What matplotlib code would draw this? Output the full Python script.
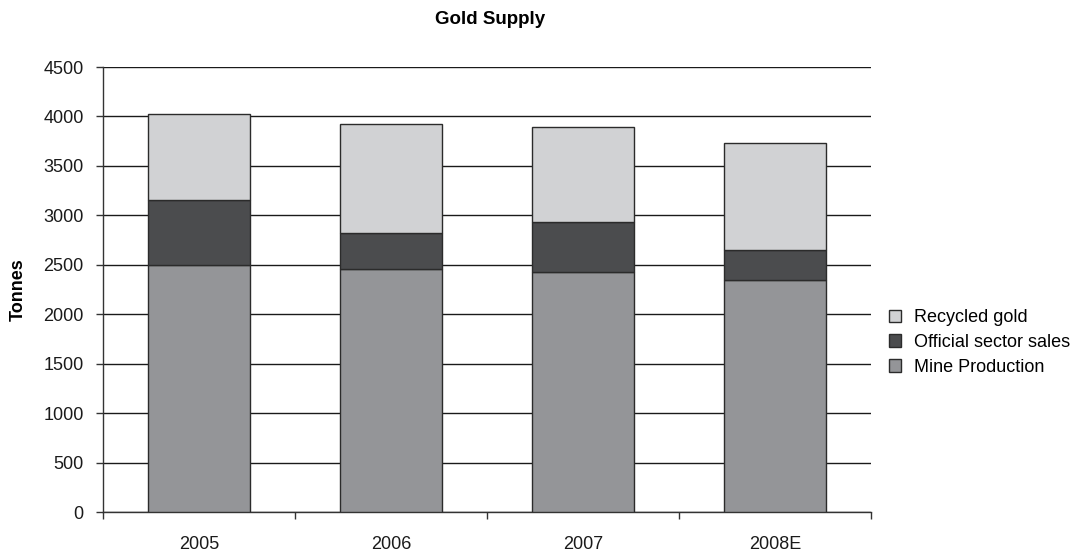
import numpy as np
import matplotlib.pyplot as plt
from matplotlib.ticker import FixedLocator, NullFormatter

plt.rcParams['font.family'] = ['Liberation Sans', 'DejaVu Sans']

# Gold supply by source (tonnes)
years = ["2005", "2006", "2007", "2008E"]
mine_production = [2500, 2460, 2430, 2345]
official_sales = [655, 360, 505, 300]
recycled_gold = [875, 1100, 960, 1090]

col_mine = "#949598"
col_official = "#4b4c4e"
col_recycled = "#d1d2d4"
edge = "#2b2b2b"

fig = plt.figure(figsize=(10.81, 5.54), dpi=100)
ax = fig.add_axes([0.0953, 0.0758, 0.7105, 0.8032])

x = np.arange(len(years))
w = 0.53
bottom2 = np.array(mine_production)
bottom3 = bottom2 + np.array(official_sales)

b1 = ax.bar(x, mine_production, w, color=col_mine, edgecolor=edge, linewidth=1.0,
            label="Mine Production", zorder=3)
b2 = ax.bar(x, official_sales, w, bottom=bottom2, color=col_official, edgecolor=edge,
            linewidth=1.0, label="Official sector sales", zorder=3)
b3 = ax.bar(x, recycled_gold, w, bottom=bottom3, color=col_recycled, edgecolor=edge,
            linewidth=1.0, label="Recycled gold", zorder=3)

ax.set_xlim(-0.5, len(years) - 0.5)
ax.set_ylim(0, 4500)
ax.set_yticks(np.arange(0, 4501, 500))
ax.yaxis.grid(True, color="#1a1a1a", linewidth=1.0, zorder=0)
ax.set_axisbelow(True)

# category boundaries carry the tick marks, labels sit at the centres
ax.xaxis.set_major_locator(FixedLocator(np.arange(-0.5, len(years), 1.0)))
ax.xaxis.set_major_formatter(NullFormatter())
ax.xaxis.set_minor_locator(FixedLocator(x))
ax.set_xticklabels(years, minor=True)
ax.tick_params(axis="x", which="major", length=5, width=1.0, color="#333333", direction="out")
ax.tick_params(axis="x", which="minor", length=0, pad=17, labelsize=13, labelcolor="#1a1a1a")
ax.tick_params(axis="y", length=5, width=1.0, color="#333333", labelsize=13,
               labelcolor="#1a1a1a", pad=9)

for s in ["top", "right"]:
    ax.spines[s].set_visible(False)
for s in ["left", "bottom"]:
    ax.spines[s].set_color("#333333")
    ax.spines[s].set_linewidth(1.0)

ax.set_ylabel("Tonnes", fontsize=13, fontweight="bold", labelpad=12)
fig.text(0.453, 0.965, "Gold Supply", ha="center", va="center", fontsize=13.5, fontweight="bold")

leg = ax.legend(handles=[b3, b2, b1], loc="center left", bbox_to_anchor=(1.023, 0.381),
                frameon=False, fontsize=13, handlelength=0.7, handleheight=0.7,
                handletextpad=0.7, labelspacing=0.42, borderaxespad=0, borderpad=0)

fig.savefig("out.png", dpi=100)
